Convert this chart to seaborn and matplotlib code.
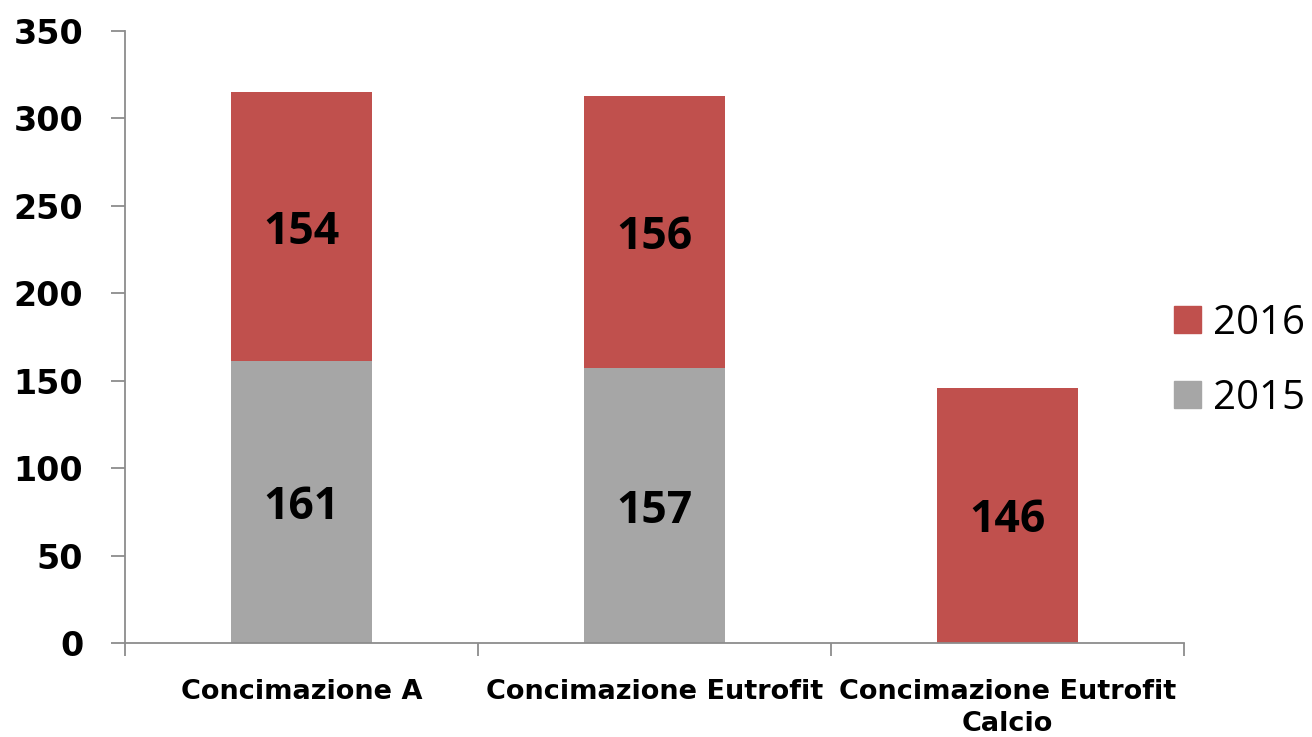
import matplotlib
matplotlib.use("Agg")
import matplotlib.pyplot as plt
import seaborn as sns
import pandas as pd
from matplotlib.patches import Patch

# dati
categorie = ["Concimazione A", "Concimazione Eutrofit", "Concimazione Eutrofit\nCalcio"]
val_2015 = [161, 157, 0]
val_2016 = [154, 156, 146]

rosso = "#C0504D"
grigio = "#A6A6A6"

sns.set_style("white")
plt.rcParams["font.family"] = ["DejaVu Sans"]
plt.rcParams["text.color"] = "black"
plt.rcParams["xtick.color"] = "black"
plt.rcParams["ytick.color"] = "black"

df = pd.DataFrame({"cat": categorie, "y2015": val_2015, "y2016": val_2016})
df["tot"] = df["y2015"] + df["y2016"]

fig = plt.figure(figsize=(13.12, 7.37), dpi=100)
ax = fig.add_axes([0.0953, 0.1275, 0.8071, 0.8305])

# barre impilate: prima il totale (rosso), poi il 2015 sopra (grigio)
sns.barplot(data=df, x="cat", y="tot", color=rosso, width=0.4, saturation=1,
            linewidth=0, ax=ax)
sns.barplot(data=df, x="cat", y="y2015", color=grigio, width=0.4, saturation=1,
            linewidth=0, ax=ax)

# etichette dei valori
for i, r in df.iterrows():
    if r["y2015"] > 0:
        ax.text(i, r["y2015"] / 2, str(r["y2015"]), ha="center", va="center_baseline",
                fontsize=32, fontweight="bold", family="Open Sans", color="black")
    ax.text(i, r["y2015"] + r["y2016"] / 2, str(r["y2016"]), ha="center",
            va="center_baseline", fontsize=32, fontweight="bold", family="Open Sans",
            color="black")

ax.set_xlim(-0.5, 2.5)
ax.set_ylim(0, 350)
ax.set_yticks(range(0, 351, 50))
ax.set_xlabel("")
ax.set_ylabel("")

sns.despine(ax=ax)
for s in ["left", "bottom"]:
    ax.spines[s].set_color("#8C8C8C")
    ax.spines[s].set_linewidth(1.3)

ax.tick_params(axis="y", which="major", left=True, length=10, width=1.3, color="#8C8C8C",
               labelcolor="black", pad=20, labelsize=24)
for lab in ax.get_yticklabels():
    lab.set_fontweight("bold")

ax.set_xticks([-0.5, 0.5, 1.5, 2.5], minor=True)
ax.tick_params(axis="x", which="minor", bottom=True, length=9, width=1.3, color="#8C8C8C")
ax.tick_params(axis="x", which="major", bottom=False, length=0, pad=26, labelsize=19.5,
               labelcolor="black")
for lab in ax.get_xticklabels():
    lab.set_fontweight("bold")
    lab.set_linespacing(1.3)

# legenda
handles = [Patch(color=rosso, label="2016"), Patch(color=grigio, label="2015")]
fig.legend(handles=handles, loc="center left", bbox_to_anchor=(0.895, 0.51),
           frameon=False, prop={"family": "Open Sans", "size": 29},
           handlelength=0.66, handleheight=0.66, labelspacing=0.85, handletextpad=0.3,
           borderaxespad=0, borderpad=0)

fig.savefig("out.png", dpi=100, facecolor="white")
